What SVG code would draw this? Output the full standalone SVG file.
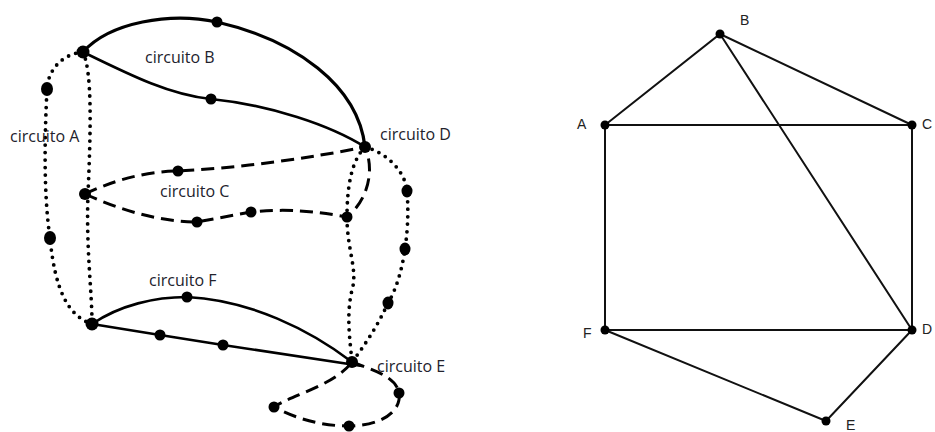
<svg xmlns="http://www.w3.org/2000/svg" width="935" height="432" viewBox="0 0 935 432">
<style>
.lbl{font-family:"Open Sans","Noto Sans",sans-serif;font-size:16px;fill:#22222c}
.rl{font-family:"Liberation Sans",Arial,sans-serif;font-size:14px;fill:#222}
.solid{fill:none;stroke:#000;stroke-width:2.6;stroke-linecap:round}
.thick{fill:none;stroke:#000;stroke-width:3.2;stroke-linecap:round}
.dot{fill:none;stroke:#000;stroke-width:3.8;stroke-linecap:round;stroke-dasharray:0 7.5}
.dash{fill:none;stroke:#000;stroke-width:3;stroke-dasharray:13 7}
.edge{fill:none;stroke:#111;stroke-width:2}
.n{fill:#000}
</style>
<rect width="935" height="432" fill="#fff"/>
<g id="connectors">
  <path class="thick" d="M83,52 C110,22 170,12 217,22 C295,40 358,85 365,147"/>
  <path class="solid" d="M83,52 C130,75 170,95 211,99 C270,105 330,125 365,147"/>
  <path class="dot" d="M83,52 C62,54 48,70 47,89 C45,130 43,190 50,238 C55,290 68,316 92,324"/>
  <path class="dot" d="M83,52 C92,72 91,125 88,194 C86,250 92,290 92,324"/>
  <path class="dot" d="M365,147 C352,160 347,185 347,217 C347,250 358,270 352,290 C346,315 350,340 352,362"/>
  <path class="dot" d="M365,147 C385,152 405,170 407,191 C409,215 407,235 405,249 C402,270 396,290 388,303 C378,325 365,345 352,362"/>
  <path class="dash" d="M85,194 C110,182 140,172 178,171 C240,168 310,158 365,147"/>
  <path class="dash" d="M85,194 C120,210 160,222 197,222 L251,212 C290,208 320,212 347,217 C368,200 375,170 365,147"/>
  <path class="solid" d="M92,324 C120,305 155,297 187,297 C250,300 310,330 352,362"/>
  <path class="solid" d="M92,324 L160,335 L223,345 L362,366"/>
  <path class="dash" d="M352,362 C372,370 396,376 399,393 C402,412 380,426 349,426 C320,426 295,418 274,407 C292,395 335,385 352,362"/>
  <path class="edge" d="M605,125 L720,34 L912,125 L605,125 Z M720,34 L912,330 M605,125 L605,330 L912,330 L912,125 M605,330 L826,421 L912,330"/>
</g>
<g id="node-AB"><circle class="n" cx="83" cy="52" r="6.5"/></g>
<g id="node-B1"><circle class="n" cx="217" cy="22" r="5.5"/></g>
<g id="node-B2"><circle class="n" cx="211" cy="99" r="5.5"/></g>
<g id="node-A1"><ellipse class="n" cx="47" cy="89" rx="6" ry="7"/></g>
<g id="node-A2"><ellipse class="n" cx="50" cy="238" rx="6" ry="7"/></g>
<g id="node-C1"><circle class="n" cx="178" cy="171" r="5.5"/></g>
<g id="node-C0"><circle class="n" cx="85" cy="194" r="6"/></g>
<g id="node-C2"><circle class="n" cx="197" cy="222" r="5.5"/></g>
<g id="node-C3"><circle class="n" cx="251" cy="212" r="5.5"/></g>
<g id="node-C4"><circle class="n" cx="347" cy="217" r="5.5"/></g>
<g id="node-D"><circle class="n" cx="365" cy="147" r="6"/></g>
<g id="node-D1"><ellipse class="n" cx="407" cy="191" rx="5.5" ry="6.5"/></g>
<g id="node-D2"><ellipse class="n" cx="405" cy="249" rx="5.5" ry="6.5"/></g>
<g id="node-D3"><ellipse class="n" cx="388" cy="303" rx="5.5" ry="6.5"/></g>
<g id="node-F"><circle class="n" cx="92" cy="324" r="6.5"/></g>
<g id="node-F1"><circle class="n" cx="187" cy="297" r="5.5"/></g>
<g id="node-F2"><circle class="n" cx="160" cy="335" r="5.5"/></g>
<g id="node-F3"><circle class="n" cx="223" cy="345" r="5.5"/></g>
<g id="node-E"><circle class="n" cx="352" cy="362" r="6"/></g>
<g id="node-E1"><circle class="n" cx="399" cy="393" r="5.5"/></g>
<g id="node-E2"><circle class="n" cx="349" cy="426" r="5.5"/></g>
<g id="node-E3"><circle class="n" cx="274" cy="407" r="5.5"/></g>
<g id="labels-left">
  <text class="lbl" x="145" y="63">circuito B</text>
  <text class="lbl" x="10" y="142">circuito A</text>
  <text class="lbl" x="160" y="197">circuito C</text>
  <text class="lbl" x="380" y="140">circuito D</text>
  <text class="lbl" x="149" y="286">circuito F</text>
  <text class="lbl" x="377" y="372">circuito E</text>
</g>
<g id="rnode-A"><circle class="n" cx="605" cy="125" r="4.5"/><text class="rl" x="577" y="129">A</text></g>
<g id="rnode-B"><circle class="n" cx="720" cy="34" r="4.5"/><text class="rl" x="740" y="25">B</text></g>
<g id="rnode-C"><circle class="n" cx="912" cy="125" r="4.5"/><text class="rl" x="922" y="129">C</text></g>
<g id="rnode-D"><circle class="n" cx="912" cy="330" r="4.5"/><text class="rl" x="922" y="334">D</text></g>
<g id="rnode-E"><circle class="n" cx="826" cy="421" r="4.5"/><text class="rl" x="846" y="430">E</text></g>
<g id="rnode-F"><circle class="n" cx="605" cy="330" r="4.5"/><text class="rl" x="583" y="338">F</text></g>
</svg>
